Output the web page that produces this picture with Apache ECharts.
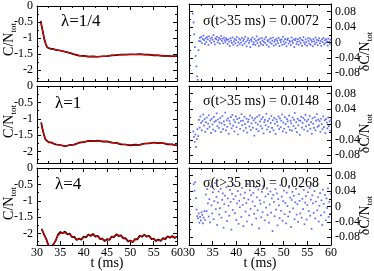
<!DOCTYPE html>
<html><head><meta charset="utf-8">
<script src="https://cdn.jsdelivr.net/npm/echarts@6/dist/echarts.min.js"></script>
<style>html,body{margin:0;padding:0;background:#fff}#c{width:374px;height:271px}</style>
</head><body><div id="c"></div>
<script>
// ---------------- data ----------------
const lambdaLabels = ['λ=1/4', 'λ=1', 'λ=4'];
const sigmaLabels = ['σ(t>35 ms) = 0.0072', 'σ(t>35 ms) = 0.0148', 'σ(t>35 ms) = 0.0268'];
const xTicks = [30, 35, 40, 45, 50, 55, 60];
const cTicks = [-2, -1.5, -1, -0.5, 0];
const cMinor = [-2.25, -1.75, -1.25, -0.75, -0.25];
const dTicks = [-0.08, -0.04, 0, 0.04, 0.08];
const dMinor = [-0.06, -0.02, 0.02, 0.06];

// lambda = 1/4
const fitT1 = [30.8,31.0,31.3,31.6,31.9,32.2,32.5,33,33.5,34,35,36,37,38,39,40,41,42,43,44,45,46,47,48,49,50,51,52,53,54,55,56,57,58,59,60];
const fit1 = [-0.48,-0.62,-0.85,-1.05,-1.2,-1.29,-1.32,-1.34,-1.35,-1.37,-1.40,-1.43,-1.47,-1.52,-1.55,-1.57,-1.58,-1.585,-1.585,-1.58,-1.57,-1.55,-1.535,-1.525,-1.52,-1.52,-1.515,-1.515,-1.52,-1.53,-1.54,-1.55,-1.56,-1.565,-1.57,-1.575];
const data1 = [-0.47,-0.63,-0.84,-1.06,-1.2,-1.30,-1.31,-1.345,-1.345,-1.375,-1.395,-1.435,-1.47,-1.515,-1.555,-1.565,-1.585,-1.58,-1.59,-1.575,-1.575,-1.545,-1.54,-1.52,-1.525,-1.515,-1.52,-1.51,-1.525,-1.525,-1.545,-1.545,-1.565,-1.56,-1.575,-1.57];

// lambda = 1
const fitT2 = [30.9,31.2,31.5,31.8,32.1,32.5,33,34,35,36,37,38,39,40,41,42,43,44,45,46,47,48,49,50,51,52,53,54,55,56,57,58,59,60];
const fit2 = [-1.12,-1.32,-1.5,-1.62,-1.68,-1.71,-1.73,-1.77,-1.81,-1.83,-1.815,-1.78,-1.74,-1.705,-1.685,-1.675,-1.675,-1.685,-1.7,-1.72,-1.745,-1.77,-1.79,-1.8,-1.8,-1.785,-1.765,-1.745,-1.735,-1.735,-1.75,-1.77,-1.79,-1.805];
const data2 = [-1.11,-1.33,-1.49,-1.63,-1.67,-1.72,-1.72,-1.785,-1.80,-1.84,-1.80,-1.79,-1.73,-1.715,-1.675,-1.685,-1.665,-1.695,-1.69,-1.73,-1.735,-1.78,-1.785,-1.81,-1.79,-1.795,-1.755,-1.755,-1.725,-1.745,-1.74,-1.78,-1.78,-1.815];

// lambda = 4
const fitT3 = [31,31.5,32,32.5,33,33.5,34,34.5,35,35.5,36,36.5,37,37.5,38,38.5,39,39.5,40,40.5,41,41.5,42,42.5,43,43.5,44,44.5,45,45.5,46,46.5,47,47.5,48,48.5,49,49.5,50,50.5,51,51.5,52,52.5,53,53.5,54,54.5,55,55.5,56,56.5,57,57.5,58,58.5,59,59.5,60];
const fit3 = [-1.88,-2.0,-2.2,-2.36,-2.42,-2.36,-2.2,-2.06,-1.99,-1.97,-1.98,-2.0,-2.03,-2.08,-2.13,-2.17,-2.18,-2.16,-2.12,-2.09,-2.06,-2.05,-2.05,-2.07,-2.1,-2.14,-2.18,-2.2,-2.2,-2.17,-2.12,-2.08,-2.05,-2.05,-2.08,-2.12,-2.17,-2.21,-2.24,-2.24,-2.2,-2.15,-2.1,-2.07,-2.06,-2.07,-2.1,-2.14,-2.18,-2.2,-2.21,-2.2,-2.17,-2.14,-2.11,-2.1,-2.1,-2.11,-2.12];
const data3 = [-1.86,-2.03,-2.17,-2.39,-2.40,-2.33,-2.22,-2.03,-1.95,-1.99,-1.94,-2.03,-2.0,-2.11,-2.10,-2.2,-2.15,-2.19,-2.09,-2.12,-2.03,-2.08,-2.01,-2.1,-2.07,-2.17,-2.15,-2.23,-2.17,-2.2,-2.09,-2.11,-2.02,-2.08,-2.05,-2.15,-2.14,-2.24,-2.21,-2.27,-2.17,-2.18,-2.07,-2.1,-2.03,-2.1,-2.07,-2.17,-2.15,-2.23,-2.18,-2.23,-2.14,-2.17,-2.08,-2.13,-2.07,-2.14,-2.09];

// residuals, sampled every resStep ms starting at resStart
const resStart = [30.8, 30.9, 31.0];
const resStep = 0.15;
const res1 = [.075,.052,.021,-.012,-.035,-.062,-.088,-.097,-.02,.004,
.012,.003,.015,-.002,.009,.018,.006,-.004,.011,.001,.014,.008,-.006,.016,.004,.010,-.001,.013,.007,.019,.002,-.005,.011,.008,.015,.000,.006,.012,-.003,.009,.017,.004,.010,-.002,.013,.006,.001,.011,.007,
-.004,.008,.002,-.009,.011,.005,-.001,.013,-.006,.003,
.009,-.002,.006,.014,-.008,.001,.010,-.004,.007,.000,
.012,-.007,.004,.009,-.003,.015,.002,-.010,.006,.011,
-.001,.005,-.012,.008,.003,.013,-.005,.000,.009,-.006,
.004,.016,-.002,.007,-.009,.010,.001,-.004,.012,.005,
-.007,.002,.009,-.001,.014,-.006,.006,.003,-.011,.008,
.000,.011,-.003,.005,.013,-.008,.002,.007,-.005,.010,
.004,-.002,.012,-.009,.006,.001,.008,-.006,.015,.003,
-.004,.009,.000,-.010,.007,.011,-.003,.005,.002,-.007,
.013,.004,-.001,.008,-.012,.006,.010,-.004,.002,.009,
-.006,.003,.012,-.002,.007,-.009,.005,.014,.000,-.005,
.008,.001,-.008,.011,.004,-.003,.010,-.006,.006,.002,
-.010,.009,.003,-.004,.013,.000,.007,-.007,.005,.011,
-.002,.004,-.009,.008,.001,.012,-.005,.006,-.001,.009,
.003,-.008,.010,.002,-.004,.007];
const res2 = [-.018,-.032,-.045,-.026,-.058,-.038,-.012,-.03,
.012,-.008,.021,.004,-.015,.009,.026,-.003,.014,-.019,
.006,.018,-.011,.002,.024,-.006,.011,-.022,.015,.000,
-.013,.020,.007,-.017,.010,.029,-.004,.013,-.009,.005,
.017,-.020,.003,.022,-.012,.008,-.001,.031,-.015,.011,
-.006,.016,-.024,.009,.002,.019,-.010,.025,-.003,.012,
-.018,.006,.021,-.007,.014,-.026,.004,.017,-.011,.009,
.027,-.002,.010,-.016,.020,.001,-.009,.015,-.021,.007,
.013,-.005,.023,-.014,.003,.018,-.008,.011,-.029,.016,
.005,-.012,.020,.000,-.017,.024,.008,-.004,.014,-.010,
.019,-.023,.006,.012,-.002,.028,-.013,.009,-.006,.015,
-.019,.004,.022,-.009,.011,-.015,.017,.002,-.025,.013,
.007,-.003,.021,-.012,.016,-.007,.010,.026,-.018,.005,
-.011,.019,.001,-.021,.014,.008,-.006,.023,-.014,.010,
.003,-.016,.018,-.004,.012,.030,-.010,.006,-.020,.015,
-.002,.011,-.027,.009,.020,-.008,.004,.017,-.013,.012,
.025,-.005,.008,-.017,.013,-.001,.022,-.011,.006,-.024,
.016,.002,-.009,.019,-.015,.010,.027,-.006,.013,-.003,
.009,-.019,.015,.001,-.012,.021,-.007,.011,-.022,.014,
.005,-.010,.018,-.004,.008,-.016,.012];
const res3 = [.058,.041,.063,.022,-.008,-.025,-.031,-.018,-.042,-.027,-.036,-.015,-.022,-.044,-.029,-.012,-.035,
.031,-.012,.045,.008,-.026,.019,-.041,.052,.003,-.018,
.037,-.033,.014,.061,-.007,.025,-.048,.010,.039,-.021,
-.004,.046,-.029,.017,.034,-.055,.006,.028,-.014,.050,
-.038,.021,.002,-.024,.043,.012,-.060,.033,-.009,.019,
.056,-.017,.027,-.035,.008,.040,-.045,.015,-.002,.031,
-.027,.048,.004,-.051,.022,.036,-.013,.009,-.039,.058,
.018,-.023,.042,-.006,.029,-.047,.013,.035,-.019,.001,
.050,-.031,.024,-.010,.044,-.057,.016,.007,-.028,.038,
-.015,.053,.011,-.036,.026,-.003,.047,-.022,.032,-.042,
.005,.039,-.016,.021,-.064,.030,.012,-.025,.045,-.008,
.034,-.049,.019,.003,-.030,.055,-.011,.026,-.037,.014,
.041,-.020,.009,-.044,.036,.001,-.026,.049,-.014,.023,
-.053,.017,.038,-.005,.028,-.033,.011,.046,-.021,.006,
-.040,.032,.015,-.018,.051,-.029,.020,-.007,.043,-.046,
.010,.027,-.034,.004,.037,-.012,.048,-.024,.018,-.058,
.029,.008,-.017,.040,-.031,.013,.054,-.010,.024,-.039,
.002,.035,-.023,.016,-.048,.044,.007,-.015,.030,-.036,
.021,-.004,.047,-.027,.012,-.019,.033,.006];

const fitT = [fitT1, fitT2, fitT3];
const fits = [fit1, fit2, fit3];
const datas = [data1, data2, data3];
const resids = [res1, res2, res3];

// ---------------- layout ----------------
const FONT = 'Liberation Serif';
const COL_LEFT = [37, 189];
const COL_WIDTH = [140, 142];
const ROW_TOP = [4, 86, 168];
const ROW_H = 77;
const C_MIN = -2.35, C_MAX = 0.0005;

const grids = [], xAxes = [], yAxes = [], series = [], graphics = [];
const line = {show: true, onZero: false, lineStyle: {color: '#000', width: 1}};
const noLine = {show: false, onZero: false};
const tickStyle = {color: '#000', width: 1};

function xAx(g, pos, labels) {
  xAxes.push({
    gridIndex: g, type: 'value', min: 30, max: 60, interval: 5, position: pos,
    axisLine: line,
    axisTick: {show: true, inside: true, length: 4, lineStyle: tickStyle},
    minorTick: {show: true, splitNumber: 2, length: 2, lineStyle: tickStyle},
    splitLine: {show: false}, minorSplitLine: {show: false},
    axisLabel: {show: labels, fontSize: 12, color: '#000', fontFamily: FONT, margin: 2,
      showMinLabel: true, showMaxLabel: true,
      formatter: v => xTicks.indexOf(v) >= 0 ? String(v) : ''}
  });
  return xAxes.length - 1;
}
function yAx(g, pos, min, max, ticks, len, showLine, labels) {
  yAxes.push({
    gridIndex: g, type: 'value', min: min, max: max, position: pos,
    axisLine: showLine ? line : noLine,
    axisTick: {show: true, inside: true, length: len, lineStyle: tickStyle, customValues: ticks},
    splitLine: {show: false},
    axisLabel: labels ? {show: true, customValues: ticks, fontSize: 12, color: '#000', fontFamily: FONT, margin: 4,
      showMinLabel: true, showMaxLabel: true, hideOverlap: false,
      formatter: v => String(v)} : {show: false}
  });
  return yAxes.length - 1;
}

for (let r = 0; r < 3; r++) {
  for (let c = 0; c < 2; c++) {
    const g = grids.length;
    grids.push({left: COL_LEFT[c], top: ROW_TOP[r], width: COL_WIDTH[c], height: ROW_H, containLabel: false});
    const xb = xAx(g, 'bottom', r === 2);
    xAx(g, 'top', false);
    let yMain;
    if (c === 0) {
      yMain = yAx(g, 'left', C_MIN, C_MAX, cTicks, 4, true, true);
      yAx(g, 'left', C_MIN, C_MAX, cMinor, 2, false, false);
      yAx(g, 'right', C_MIN, C_MAX, cTicks, 4, true, false);
      yAx(g, 'right', C_MIN, C_MAX, cMinor, 2, false, false);
      series.push({type: 'line', xAxisIndex: xb, yAxisIndex: yMain, showSymbol: false, animation: false,
        data: fitT[r].map((t, i) => [t, datas[r][i]]), lineStyle: {color: '#000', width: 1.7}, z: 2});
      series.push({type: 'line', xAxisIndex: xb, yAxisIndex: yMain, showSymbol: false, animation: false,
        data: fitT[r].map((t, i) => [t, fits[r][i]]), lineStyle: {color: '#e00000', width: 1.2}, z: 3});
    } else {
      yAx(g, 'left', -0.1, 0.1, dTicks, 4, true, false);
      yAx(g, 'left', -0.1, 0.1, dMinor, 2, false, false);
      yMain = yAx(g, 'right', -0.1, 0.1, dTicks, 4, true, true);
      yAx(g, 'right', -0.1, 0.1, dMinor, 2, false, false);
      series.push({type: 'scatter', xAxisIndex: xb, yAxisIndex: yMain, animation: false, clip: true,
        symbol: 'rect', symbolSize: 1.7,
        itemStyle: {color: '#3344ff', opacity: 0.8},
        data: resids[r].map((v, i) => [resStart[r] + resStep * i, v])});
    }
  }
}

// texts
const lamX = [61, 55, 55];
const lamY = [22, 104, 185];
const sigY = [21, 101, 183];
for (let r = 0; r < 3; r++) {
  graphics.push({type: 'text', x: lamX[r], y: lamY[r], z: 10,
    style: {text: lambdaLabels[r], font: '17px "' + FONT + '"', fill: '#000', align: 'left', verticalAlign: 'middle'}});
  graphics.push({type: 'text', x: 319, y: sigY[r], z: 10,
    style: {text: sigmaLabels[r], font: '14px "' + FONT + '"', fill: '#000', align: 'right', verticalAlign: 'middle'}});
  const cy = ROW_TOP[r] + ROW_H / 2;
  graphics.push({type: 'text', x: 9, y: cy - 3, rotation: Math.PI / 2, z: 10,
    style: {text: '{m|C/N}{s|tot}', align: 'center', verticalAlign: 'middle', fill: '#000',
      rich: {m: {fontSize: 14, fontFamily: FONT, fill: '#000', lineHeight: 18, verticalAlign: 'middle'},
             s: {fontSize: 9, fontFamily: FONT, fill: '#000', lineHeight: 10, verticalAlign: 'bottom'}}}});
  graphics.push({type: 'text', x: 365, y: cy + 9, rotation: Math.PI / 2, z: 10,
    style: {text: '{m|δC/N}{s|tot}', align: 'center', verticalAlign: 'middle', fill: '#000',
      rich: {m: {fontSize: 14, fontFamily: FONT, fill: '#000', lineHeight: 18, verticalAlign: 'middle'},
             s: {fontSize: 9, fontFamily: FONT, fill: '#000', lineHeight: 10, verticalAlign: 'bottom'}}}});
}
graphics.push({type: 'text', x: 107, y: 263, z: 10,
  style: {text: 't (ms)', font: '14px "' + FONT + '"', fill: '#000', align: 'center', verticalAlign: 'middle'}});
graphics.push({type: 'text', x: 260, y: 263, z: 10,
  style: {text: 't (ms)', font: '14px "' + FONT + '"', fill: '#000', align: 'center', verticalAlign: 'middle'}});

const chart = echarts.init(document.getElementById('c'), null, {renderer: 'canvas'});
chart.setOption({
  animation: false,
  backgroundColor: '#fff',
  grid: grids, xAxis: xAxes, yAxis: yAxes, series: series, graphic: graphics
});
</script></body></html>
